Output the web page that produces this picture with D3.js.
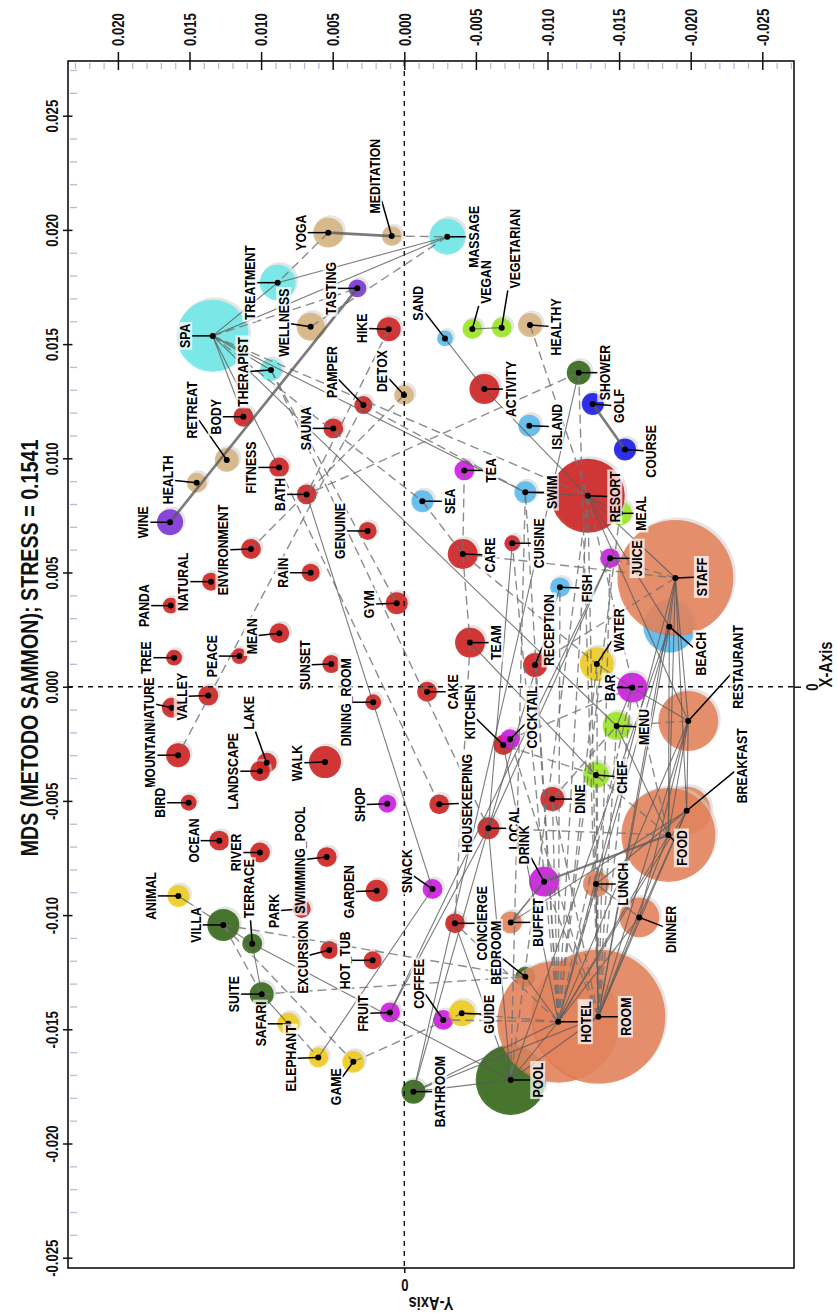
<!DOCTYPE html>
<html>
<head>
<meta charset="utf-8">
<title>MDS (METODO SAMMON)</title>
<script src="https://cdn.jsdelivr.net/npm/d3@7"></script>
<style>
  body { margin: 0; background: #fff; overflow: hidden; }
</style>
</head>
<body>
<div id="chart"></div>
<script>
// ---------------------------------------------------------------------------
// data : word map from a Sammon MDS
// coordX = value on the "X-Axis", coordY = value on the "Y-Axis"
// ---------------------------------------------------------------------------
const words = ["SPA","TREATMENT","MASSAGE","THERAPIST","YOGA","MEDITATION","WELLNESS","DETOX","RETREAT","HEALTH",
  "HEALTHY","TASTING","WINE","HIKE","PAMPER","BODY","SAUNA","FITNESS","BATH","GENUINE",
  "ENVIRONMENT","RAIN","NATURAL","GYM","PANDA","MEAN","TREE","PEACE","SUNSET","VALLEY",
  "NATURE","DINING_ROOM","MOUNTAIN","LAKE","LANDSCAPE","WALK","BIRD","OCEAN","RIVER","SWIMMING_POOL",
  "GARDEN","PARK","EXCURSION","HOT_TUB","CAKE","HOUSEKEEPING","CONCIERGE","TEAM","CARE","CUISINE",
  "RECEPTION","KITCHEN","DINE","LOCAL","ACTIVITY","RESORT","SAND","SEA","SWIM","ISLAND",
  "FISH","BEACH","VEGAN","VEGETARIAN","MEAL","MENU","CHEF","SHOWER","VILLA","TERRACE",
  "SUITE","BATHROOM","POOL","BEDROOM","GOLF","COURSE","TEA","JUICE","BAR","COCKTAIL",
  "DRINK","SHOP","SNACK","FRUIT","COFFEE","WATER","GUIDE","ANIMAL","SAFARI","ELEPHANT",
  "GAME","STAFF","RESTAURANT","BREAKFAST","FOOD","LUNCH","DINNER","BUFFET","HOTEL","ROOM"];

const coordX = [0.01536,0.01769,0.01970,0.01387,0.01988,0.01973,0.01576,0.01277,0.00993,0.00893,
  0.01584,0.01744,0.00720,0.01565,0.01233,0.01182,0.01131,0.00960,0.00842,0.00682,
  0.00603,0.00499,0.00460,0.00365,0.00355,0.00234,0.00127,0.00134,0.00099,-0.00039,
  -0.00092,-0.00068,-0.00300,-0.00333,-0.00370,-0.00330,-0.00508,-0.00674,-0.00726,-0.00746,
  -0.00893,-0.00973,-0.01153,-0.01198,-0.00022,-0.00515,-0.01036,0.00193,0.00581,0.00628,
  0.00095,-0.00255,-0.00492,-0.00620,0.01303,0.00836,0.01525,0.00812,0.00851,0.01143,
  0.00435,0.00263,0.01566,0.01572,0.00759,-0.00172,-0.00387,0.01375,-0.01043,-0.01125,
  -0.01346,-0.01773,-0.01722,-0.01270,0.01238,0.01039,0.00947,0.00562,-0.00004,-0.00230,
  -0.00854,-0.00512,-0.00886,-0.01426,-0.01459,0.00099,-0.01430,-0.00916,-0.01476,-0.01623,
  -0.01642,0.00476,-0.00150,-0.00543,-0.00649,-0.00864,-0.01010,-0.01032,-0.01467,-0.01445];

const coordY = [0.01338,0.00884,-0.00300,0.00931,0.00531,0.00088,0.00654,0.00002,0.01240,0.01450,
  -0.00878,0.00328,0.01636,0.00109,0.00286,0.01124,0.00496,0.00875,0.00682,0.00256,
  0.01071,0.00654,0.01350,0.00053,0.01631,0.00873,0.01608,0.01152,0.00510,0.01369,
  0.01624,0.00217,0.01580,0.00961,0.01008,0.00554,0.01506,0.01292,0.01008,0.00542,
  0.00193,0.00717,0.00524,0.00221,-0.00159,-0.00244,-0.00354,-0.00459,-0.00408,-0.00754,
  -0.00913,-0.00691,-0.01034,-0.00587,-0.00559,-0.01281,-0.00284,-0.00126,-0.00845,-0.00873,
  -0.01087,-0.01851,-0.00475,-0.00680,-0.01506,-0.01483,-0.01339,-0.01218,0.01264,0.01062,
  0.00996,-0.00064,-0.00743,-0.00845,-0.01316,-0.01541,-0.00419,-0.01437,-0.01592,-0.00738,
  -0.00976,0.00119,-0.00197,0.00100,-0.00272,-0.01344,-0.00401,0.01578,0.00810,0.00601,
  0.00356,-0.01893,-0.01983,-0.01972,-0.01844,-0.01339,-0.01641,-0.00743,-0.01075,-0.01355];

// word frequency (bubble area)
const freq = [289,72,72,27,50,22,44,22,32,22,
  32,18,38,32,18,22,22,22,22,18,
  22,18,18,27,14,22,14,14,18,22,
  22,14,32,22,22,57,14,22,22,22,
  27,18,18,18,22,22,22,50,50,14,
  32,22,32,27,50,305,14,27,27,27,
  22,151,22,22,32,44,38,32,57,22,
  32,32,273,22,27,27,22,22,50,22,
  50,18,22,22,22,64,38,27,27,22,
  27,749,200,128,492,38,89,27,829,1000];

const cluster = ["spa","spa","spa","spa","well","well","well","well","well","well",
  "well","wine","wine","nature","nature","nature","nature","nature","nature","nature",
  "nature","nature","nature","nature","nature","nature","nature","nature","nature","nature",
  "nature","nature","nature","nature","nature","nature","nature","nature","nature","nature",
  "nature","nature","nature","nature","nature","nature","nature","nature","nature","nature",
  "nature","nature","nature","nature","nature","nature","sea","sea","sea","sea",
  "sea","sea","veg","veg","veg","veg","veg","villa","villa","villa",
  "villa","villa","villa","villa","golf","golf","drink","drink","drink","drink",
  "drink","drink","drink","drink","drink","safari","safari","safari","safari","safari",
  "safari","hotel","hotel","hotel","hotel","hotel","hotel","hotel","hotel","hotel"];

// co-occurrence links : [word, word, "s" solid | "d" dashed, weight]
const links = [
  ["SPA","TREATMENT","s",1],["SPA","THERAPIST","s",1],["SPA","MASSAGE","s",1],["TREATMENT","MASSAGE","s",1],
  ["SPA","BODY","s",1],["SPA","FITNESS","s",1],["SPA","SWIM","s",1],["SPA","RESORT","d",1],
  ["SPA","TASTING","d",1],["SPA","SEA","d",1],["SPA","MENU","s",1],["YOGA","MEDITATION","s",2.4],
  ["MEDITATION","MASSAGE","d",1],["YOGA","TREATMENT","d",1],["MASSAGE","WELLNESS","d",1],
  ["WINE","TASTING","s",2.4],["THERAPIST","GYM","d",1],["THERAPIST","LOCAL","d",1],
  ["FITNESS","HOUSEKEEPING","d",1],["BATH","SNACK","s",1],["HIKE","BATH","d",1],["DETOX","ENVIRONMENT","d",1],
  ["PAMPER","MOUNTAIN","d",1],["PAMPER","SWIM","d",1],["SAND","ACTIVITY","s",1],["ACTIVITY","RESORT","s",1],
  ["VEGAN","VEGETARIAN","s",1],["HEALTHY","RESORT","d",1],["SHOWER","BATH","d",1],["SHOWER","BATHROOM","s",1],
  ["SHOWER","ROOM","d",1],["GOLF","COURSE","s",2.4],
  ["TEA","CARE","d",1],["CARE","TEAM","d",1],["TEAM","CONCIERGE","d",1],["SEA","CARE","d",1],
  ["CARE","STAFF","d",1],["CARE","WATER","d",1],["TEAM","CHEF","s",1],["LOCAL","JUICE","s",1],
  ["LOCAL","CUISINE","s",1],["LOCAL","FISH","s",1],["LOCAL","BATHROOM","s",1],["LOCAL","POOL","s",1],
  ["LOCAL","FRUIT","s",1],["FRUIT","JUICE","s",1],["KITCHEN","COCKTAIL","s",1],["SWIM","POOL","d",1],
  ["ANIMAL","VILLA","s",1],["VILLA","TERRACE","s",1],["TERRACE","SUITE","s",1],["VILLA","SUITE","d",1],
  ["VILLA","GAME","d",1],["VILLA","BEDROOM","d",1],["SUITE","BEDROOM","d",1],["TERRACE","POOL","s",1],
  ["SAFARI","ELEPHANT","d",1],["SUITE","SAFARI","s",1],["ELEPHANT","SNACK","s",1],["GAME","GUIDE","d",1],
  ["BATHROOM","POOL","s",1],["CONCIERGE","POOL","s",1],
  ["RESORT","HOTEL","d",1],["RESORT","ROOM","d",1],["RESORT","POOL","d",1],["RESORT","BEACH","s",1],
  ["RESORT","STAFF","s",1],["RESORT","RESTAURANT","s",1],["RESORT","FOOD","d",1],["RESORT","SWIM","s",1],
  ["RESORT","MEAL","s",1],
  ["BEACH","HOTEL","s",1],["BEACH","ROOM","s",1],["BEACH","POOL","s",1],["BEACH","STAFF","s",1],["BEACH","FOOD","s",1],
  ["STAFF","HOTEL","s",1],["STAFF","ROOM","s",1],["STAFF","FOOD","s",1],["STAFF","RESTAURANT","s",1],
  ["STAFF","JUICE","d",1],["STAFF","RECEPTION","d",1],["STAFF","BREAKFAST","s",1],
  ["RESTAURANT","BREAKFAST","s",1],["RESTAURANT","FOOD","s",1],["RESTAURANT","HOTEL","s",1],["RESTAURANT","ROOM","s",1],
  ["RESTAURANT","DINNER","s",1],["RESTAURANT","BAR","s",1],["RESTAURANT","MENU","d",1],
  ["BREAKFAST","HOTEL","s",1],["BREAKFAST","ROOM","s",1],["BREAKFAST","LUNCH","s",1],["BREAKFAST","DINNER","s",1],
  ["BREAKFAST","BUFFET","s",1],
  ["FOOD","HOTEL","s",1],["FOOD","ROOM","s",1],["FOOD","DRINK","s",2],["FOOD","LOCAL","d",1],["FOOD","MENU","s",1],
  ["FOOD","CHEF","d",1],["LUNCH","DINNER","s",1],["LUNCH","HOTEL","d",1],["DINNER","ROOM","s",1],["DINNER","HOTEL","s",1],
  ["BUFFET","DRINK","s",1.5],
  ["HOTEL","POOL","s",1],["ROOM","POOL","s",1],["HOTEL","BEDROOM","s",1],["HOTEL","BATHROOM","s",1],
  ["ROOM","BATHROOM","s",1],["HOTEL","CONCIERGE","d",1],["HOTEL","GUIDE","d",1],["HOTEL","COFFEE","d",1],
  ["HOTEL","RECEPTION","d",1],["HOTEL","SWIM","d",1],["HOTEL","FISH","d",1],["HOTEL","CUISINE","d",1],
  ["HOTEL","BAR","d",1],["HOTEL","WATER","d",1],["HOTEL","DINE","d",1],["HOTEL","KITCHEN","s",1],["HOTEL","MEAL","d",1],
  ["ROOM","MENU","d",1],["ROOM","CHEF","d",1],["ROOM","BAR","d",1],["ROOM","WATER","d",1],["ROOM","JUICE","d",1],
  ["ROOM","COCKTAIL","d",1],["ROOM","DINE","d",1],["ROOM","DRINK","d",1],["ROOM","LUNCH","s",1],
  ["BAR","MENU","s",1],["BAR","WATER","s",1],["BAR","COCKTAIL","d",1],["DINE","MENU","d",1],["CHEF","KITCHEN","d",1]
];

// axis ticks
const xTicks = [-0.025,-0.020,-0.015,-0.010,-0.005,0.000,0.005,0.010,0.015,0.020,0.025];
const yTicks = [-0.025,-0.020,-0.015,-0.010,-0.005,0.000,0.005,0.010,0.015,0.020];

// ---------------------------------------------------------------------------
// layout / style
// ---------------------------------------------------------------------------
const W = 837, H = 1315;
const box = {left: 68, right: 794, top: 61, bottom: 1268};
const FONT = "'Liberation Sans', Arial, Helvetica, sans-serif";
const NARROW = "scale(0.82,1)";   // arial-narrow look

const groups = ["spa","well","wine","nature","sea","veg","villa","golf","drink","safari","hotel"];
const groupColors = ["#60E7E7","#D4AE75","#6F1ED3","#CC0A0A","#4AB4EC","#92E60B","#1F5900","#0000E6","#CD00E2","#EFC909","#E3784C"];

// label nudges in px (image frame) relative to the bubble centre
const labelNudge = {
  SPA:[-28,0], TREATMENT:[-28,0], MASSAGE:[26,0], THERAPIST:[-28,2], YOGA:[-28,0], MEDITATION:[-17,-60],
  WELLNESS:[-27,-4], DETOX:[-22,-24], RETREAT:[-35,-50], HEALTH:[-29,-3], HEALTHY:[26,2], TASTING:[-27,0],
  WINE:[-27,0], HIKE:[-27,-1], PAMPER:[-32,-33], BODY:[-28,0], SAUNA:[-28,0], FITNESS:[-28,0], BATH:[-27,0],
  GENUINE:[-28,0], ENVIRONMENT:[-28,1], RAIN:[-28,0], NATURAL:[-28,0], GYM:[-28,1], PANDA:[-27,0], MEAN:[-28,3],
  TREE:[-28,0], PEACE:[-28,0], SUNSET:[-27,1], VALLEY:[-27,1], NATURE:[-23,-5], DINING_ROOM:[-28,0],
  MOUNTAIN:[-28,0], LAKE:[-18,-50], LANDSCAPE:[-27,0], WALK:[-28,1], BIRD:[-29,0], OCEAN:[-26,0], RIVER:[-24,0],
  SWIMMING_POOL:[-27,3], GARDEN:[-28,1], PARK:[-28,2], EXCURSION:[-27,7], HOT_TUB:[-28,0], CAKE:[26,0],
  HOUSEKEEPING:[27,-1], CONCIERGE:[27,0], TEAM:[26,0], CARE:[27,1], CUISINE:[26,0], RECEPTION:[14,-35],
  KITCHEN:[-34,-33], DINE:[27,0], LOCAL:[25,0], ACTIVITY:[26,0], RESORT:[27,1], SAND:[-27,-35], SEA:[27,0],
  SWIM:[26,0], ISLAND:[27,1], FISH:[27,1], BEACH:[31,27], VEGAN:[13,-47], VEGETARIAN:[13,-79], MEAL:[21,0],
  MENU:[27,1], CHEF:[26,2], SHOWER:[26,0], VILLA:[-28,0], TERRACE:[-4,-55], SUITE:[-28,0], BATHROOM:[26,0],
  POOL:[27,0], BEDROOM:[-30,-24], GOLF:[26,2], COURSE:[26,2], TEA:[26,0], JUICE:[27,0], BAR:[-23,0],
  COCKTAIL:[22,-22], DRINK:[-20,-37], SHOP:[-28,1], SNACK:[-26,-18], FRUIT:[-27,1], COFFEE:[-25,-36],
  WATER:[22,-34], GUIDE:[27,1], ANIMAL:[-28,0], SAFARI:[-28,0], ELEPHANT:[-28,1], GAME:[-18,25],
  STAFF:[26,-1], RESTAURANT:[49,-54], BREAKFAST:[55,-45], FOOD:[13,13], LUNCH:[27,0], DINNER:[31,12],
  BUFFET:[27,0], HOTEL:[27,0], ROOM:[27,0]
};

// ---------------------------------------------------------------------------
// scales : the plot is turned a quarter turn, X-Axis runs up the page,
// Y-Axis runs from right to left
// ---------------------------------------------------------------------------
const scaleDimX = d3.scaleLinear().domain([-0.025451, 0.027395]).range([box.bottom, box.top]);
const scaleDimY = d3.scaleLinear().domain([0.023485, -0.027214]).range([box.left, box.right]);
const rScale = d3.scaleSqrt().domain([0, 1000]).range([0, 67]);
const color = d3.scaleOrdinal().domain(groups).range(groupColors);

const nodes = words.map((w, i) => {
  const cx = scaleDimY(coordY[i]), cy = scaleDimX(coordX[i]);
  const nudge = labelNudge[w] || [-28, 0];
  return {word: w, group: cluster[i], n: freq[i], cx: cx, cy: cy, r: rScale(freq[i]),
          lx: cx + nudge[0], ly: cy + nudge[1]};
});
const byWord = new Map(nodes.map(d => [d.word, d]));

const svg = d3.select("#chart").append("svg")
  .attr("width", W).attr("height", H)
  .style("font-family", FONT).style("font-weight", "bold");

svg.append("rect").attr("width", W).attr("height", H).attr("fill", "#fff");

// ---------------------------------------------------------------------------
// bubbles (small first so the big ones sit on top)
// ---------------------------------------------------------------------------
const ordered = nodes.slice().sort((a, b) => a.r - b.r);
const gBub = svg.append("g");
ordered.forEach(d => {
  gBub.append("circle")
    .attr("cx", d.cx + 2).attr("cy", d.cy - 2).attr("r", d.r + 0.5)
    .attr("fill", "#cfcfcf").attr("fill-opacity", 0.55);
  gBub.append("circle")
    .attr("cx", d.cx).attr("cy", d.cy).attr("r", d.r)
    .attr("fill", color(d.group)).attr("fill-opacity", 0.8);
});

// zero reference lines
svg.append("line")
  .attr("x1", scaleDimY(0)).attr("x2", scaleDimY(0))
  .attr("y1", box.top).attr("y2", box.bottom)
  .attr("stroke", "#111").attr("stroke-width", 1.4).attr("stroke-dasharray", "5,5");
svg.append("line")
  .attr("x1", box.left).attr("x2", box.right)
  .attr("y1", scaleDimX(0)).attr("y2", scaleDimX(0))
  .attr("stroke", "#111").attr("stroke-width", 1.4).attr("stroke-dasharray", "5,5");

// links
svg.append("g").selectAll("line").data(links).join("line")
  .attr("x1", d => byWord.get(d[0]).cx).attr("y1", d => byWord.get(d[0]).cy)
  .attr("x2", d => byWord.get(d[1]).cx).attr("y2", d => byWord.get(d[1]).cy)
  .attr("stroke", d => d[2] === "s" ? "#5a5a5a" : "#707070")
  .attr("stroke-opacity", 0.8)
  .attr("stroke-width", d => (d[2] === "s" ? 1.1 : 1.4) * d[3])
  .attr("stroke-dasharray", d => d[2] === "s" ? null : "9,5");

// ---------------------------------------------------------------------------
// labels with leader segments
// ---------------------------------------------------------------------------
const gLead = svg.append("g");
const gDot = svg.append("g");
const gLab = svg.append("g");

const lab = gLab.selectAll("g").data(nodes).join("g")
  .attr("transform", d => `translate(${d.lx},${d.ly}) rotate(-90) ${NARROW}`);
lab.append("rect").attr("fill", "#fff").attr("fill-opacity", 0.72);
lab.append("text")
  .attr("text-anchor", "middle").attr("dy", "0.36em")
  .attr("font-size", 15).attr("fill", "#000")
  .text(d => d.word);
lab.each(function(d) {
  const g = d3.select(this);
  d.len = g.select("text").node().getComputedTextLength();
  g.select("rect").attr("x", -d.len / 2 - 2).attr("y", -7.5)
    .attr("width", d.len + 4).attr("height", 15);
});

nodes.forEach(d => {
  const dx = d.lx - d.cx, dy = d.ly - d.cy;
  const hw = 7, hh = d.len * 0.82 / 2 + 2;
  const s = Math.min(Math.abs(dx) > 0 ? hw / Math.abs(dx) : Infinity,
                     Math.abs(dy) > 0 ? hh / Math.abs(dy) : Infinity);
  if (s >= 1) return;
  gLead.append("line")
    .attr("x1", d.cx).attr("y1", d.cy)
    .attr("x2", d.lx - dx * s).attr("y2", d.ly - dy * s)
    .attr("stroke", "#000").attr("stroke-width", 1.5);
});

gDot.selectAll("circle").data(nodes).join("circle")
  .attr("cx", d => d.cx).attr("cy", d => d.cy).attr("r", 3).attr("fill", "#000");

// ---------------------------------------------------------------------------
// frame and axes
// ---------------------------------------------------------------------------
svg.append("rect")
  .attr("x", box.left).attr("y", box.top)
  .attr("width", box.right - box.left).attr("height", box.bottom - box.top)
  .attr("fill", "none").attr("stroke", "#111").attr("stroke-width", 1.6);

const fmt = d => d.toFixed(3);
const minorY = d3.range(-27, 24).map(i => i / 1000).filter(v => !yTicks.some(t => Math.abs(t - v) < 1e-9));
const minorX = d3.range(-25, 28).map(i => i / 1000).filter(v => !xTicks.some(t => Math.abs(t - v) < 1e-9));

// minor ticks along the top (inside)
const mTop = svg.append("g").attr("transform", `translate(0,${box.top})`)
  .call(d3.axisTop(scaleDimY).tickValues(minorY).tickSizeInner(-8).tickSizeOuter(0).tickFormat(""));
mTop.select(".domain").remove();
mTop.selectAll(".tick line").attr("y1", 2).attr("stroke", "#b8bcd6").attr("stroke-width", 1.3);

// minor ticks along the left (inside)
const mLeft = svg.append("g").attr("transform", `translate(${box.left},0)`)
  .call(d3.axisLeft(scaleDimX).tickValues(minorX).tickSizeInner(-9).tickSizeOuter(0).tickFormat(""));
mLeft.select(".domain").remove();
mLeft.selectAll(".tick line").attr("x1", 2).attr("stroke", "#b8bcd6").attr("stroke-width", 1.3);

// Y-Axis values, along the top edge
const axTop = svg.append("g").attr("transform", `translate(0,${box.top})`)
  .call(d3.axisTop(scaleDimY).tickValues(yTicks).tickSizeInner(9).tickSizeOuter(0).tickFormat(fmt));
axTop.select(".domain").remove();
axTop.attr("font-family", FONT).attr("font-size", 16).attr("font-weight", "bold");
axTop.selectAll(".tick line").attr("y1", 9).attr("stroke", "#111").attr("stroke-width", 1.5);
axTop.selectAll(".tick text")
  .attr("x", 0).attr("y", 0).attr("dy", "0.36em").attr("fill", "#111")
  .attr("text-anchor", "start")
  .attr("transform", `translate(0,-15) rotate(-90) ${NARROW}`);

// X-Axis values, along the left edge
const axLeft = svg.append("g").attr("transform", `translate(${box.left},0)`)
  .call(d3.axisLeft(scaleDimX).tickValues(xTicks).tickSizeInner(5).tickSizeOuter(0).tickFormat(fmt));
axLeft.select(".domain").remove();
axLeft.attr("font-family", FONT).attr("font-size", 16).attr("font-weight", "bold");
axLeft.selectAll(".tick line").attr("x1", 4.5).attr("stroke", "#111").attr("stroke-width", 1.5);
axLeft.selectAll(".tick text")
  .attr("x", 0).attr("y", 0).attr("dy", "0.36em").attr("fill", "#111")
  .attr("text-anchor", "middle")
  .attr("transform", `translate(-15.5,0) rotate(-90) ${NARROW}`);

// single zero ticks on the right and bottom edges
const axRight = svg.append("g").attr("transform", `translate(${box.right},0)`)
  .call(d3.axisRight(scaleDimX).tickValues([0]).tickSizeInner(7).tickSizeOuter(0).tickFormat(() => "0"));
axRight.select(".domain").remove();
axRight.attr("font-family", FONT).attr("font-size", 16).attr("font-weight", "bold");
axRight.selectAll(".tick line").attr("stroke", "#111").attr("stroke-width", 1.5);
axRight.selectAll(".tick text")
  .attr("x", 0).attr("y", 0).attr("dy", "0.36em").attr("fill", "#111").attr("text-anchor", "middle")
  .attr("transform", `translate(18,0) rotate(-90) ${NARROW}`);

const axBottom = svg.append("g").attr("transform", `translate(0,${box.bottom})`)
  .call(d3.axisBottom(scaleDimY).tickValues([0]).tickSizeInner(5).tickSizeOuter(0).tickFormat(() => "0"));
axBottom.select(".domain").remove();
axBottom.attr("font-family", FONT).attr("font-size", 16).attr("font-weight", "bold");
axBottom.selectAll(".tick line").attr("stroke", "#111").attr("stroke-width", 1.5);
axBottom.selectAll(".tick text")
  .attr("x", 0).attr("y", 0).attr("dy", "0.36em").attr("fill", "#111").attr("text-anchor", "middle")
  .attr("transform", `translate(0,17) rotate(180) ${NARROW}`);

// axis titles and chart title
const midX = (box.left + box.right) / 2, midY = (box.top + box.bottom) / 2;
svg.append("text")
  .attr("transform", `translate(826,${midY}) rotate(-90) ${NARROW}`)
  .attr("text-anchor", "middle").attr("dy", "0.36em").attr("font-size", 18).attr("fill", "#111")
  .text("X-Axis");
svg.append("text")
  .attr("transform", `translate(${midX},1303) rotate(180) ${NARROW}`)
  .attr("text-anchor", "middle").attr("dy", "0.36em").attr("font-size", 18).attr("fill", "#111")
  .text("Y-Axis");
svg.append("text")
  .attr("transform", `translate(29,648) rotate(-90) ${NARROW}`)
  .attr("text-anchor", "middle").attr("dy", "0.36em").attr("font-size", 24).attr("fill", "#111")
  .text("MDS (METODO SAMMON); STRESS = 0.1541");
</script>
</body>
</html>
